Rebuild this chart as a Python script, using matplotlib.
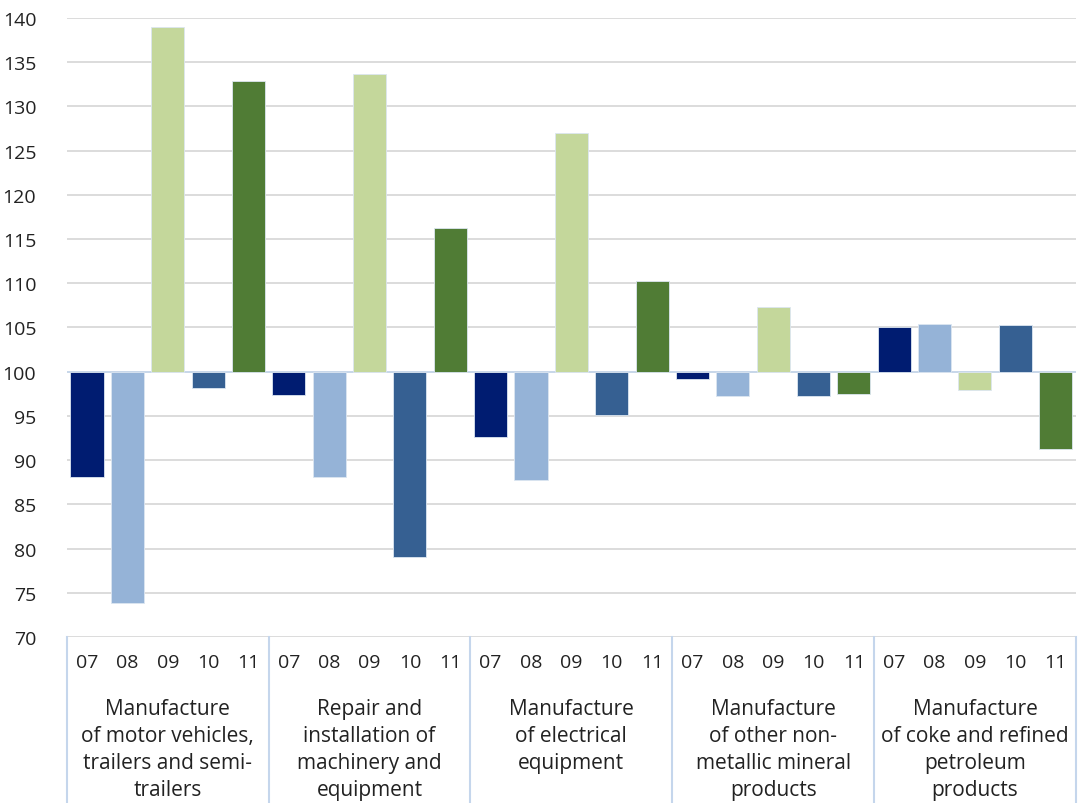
import numpy as np
import matplotlib
matplotlib.use("Agg")
import matplotlib.pyplot as plt

plt.rcParams['font.family'] = ['Open Sans', 'DejaVu Sans']

years = ["07", "08", "09", "10", "11"]
groups = [
    "Manufacture\nof motor vehicles,\ntrailers and semi-\ntrailers",
    "Repair and\ninstallation of\nmachinery and\nequipment",
    "Manufacture\nof electrical\nequipment",
    "Manufacture\nof other non-\nmetallic mineral\nproducts",
    "Manufacture\nof coke and refined\npetroleum\nproducts",
]
# index values per group, years 07..11
motor = [88.1, 73.8, 139.0, 98.1, 132.9]
repair = [97.4, 88.1, 133.7, 79.0, 116.2]
electrical = [92.6, 87.7, 127.0, 95.1, 110.2]
mineral = [99.2, 97.3, 107.3, 97.3, 97.5]
coke = [105.0, 105.4, 97.9, 105.3, 91.3]
values = [motor, repair, electrical, mineral, coke]

colors = ["#001c71", "#95b3d7", "#c4d79b", "#366092", "#507c35"]
base = 100

fig = plt.figure(figsize=(10.78, 8.04), dpi=100)
ax = fig.add_axes([0.062, 0.2065, 0.936, 0.7699])

n = len(years)
for g, vals in enumerate(values):
    for i, v in enumerate(vals):
        x = g * n + i
        ax.bar(x, v - base, bottom=base, width=0.82, color=colors[i],
               edgecolor="#dce6f1", linewidth=0.6, zorder=3)

ax.set_ylim(70, 140)
ax.set_xlim(-0.5, len(groups) * n - 0.5)
ax.set_yticks(range(70, 141, 5))
ax.yaxis.grid(True, color="#d6d6d6", linewidth=1.2, zorder=0)
ax.axhline(base, color="#c5d6ec", linewidth=1.2, zorder=2)
ax.set_xticks([])
for s in ax.spines.values():
    s.set_visible(False)
ax.tick_params(axis="y", length=0, pad=22, labelsize=14, labelcolor="#222222")

trans = ax.get_xaxis_transform()
for g, name in enumerate(groups):
    for i, yr in enumerate(years):
        ax.text(g * n + i, -0.04, yr, transform=trans, ha="center", va="center",
                fontsize=14, color="#222222")
    ax.text(g * n + (n - 1) / 2, -0.099, name, transform=trans, ha="center",
            va="top", fontsize=15, color="#222222", linespacing=1.38)

for k in range(len(groups) + 1):
    xs = k * n - 0.5
    ax.plot([xs, xs], [0, -0.27], transform=trans, color="#c5d6ec",
            linewidth=1.5, clip_on=False)

fig.savefig("out.png", dpi=100)
